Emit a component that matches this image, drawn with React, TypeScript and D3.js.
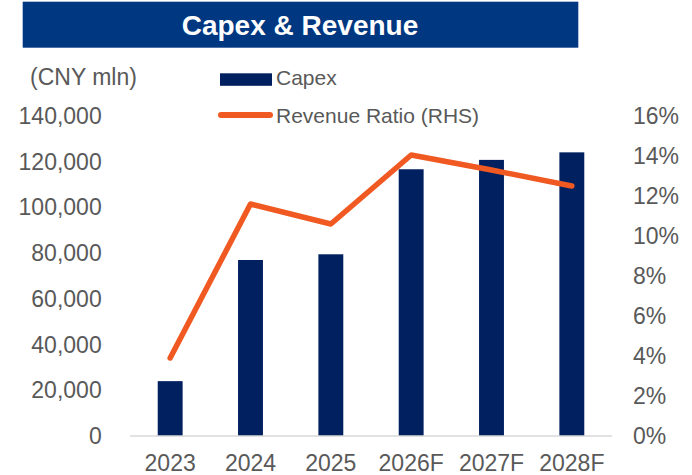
import React from "react";
import * as d3 from "d3";

const categories = ["2023", "2024", "2025", "2026F", "2027F", "2028F"];
const capex = [24000, 77000, 79500, 116700, 120800, 124100];
const revenueRatio = [3.9, 11.6, 10.6, 14.05, 13.3, 12.5];
const leftTicks = [0, 20000, 40000, 60000, 80000, 100000, 120000, 140000];
const rightTicks = [0, 2, 4, 6, 8, 10, 12, 14, 16];

const W = 692;
const H = 475;
const plot = { left: 130, right: 612, top: 116, bottom: 436 };
const FONT = "'Liberation Sans', Arial, sans-serif";
const GRAY = "#595959";
const NAVY = "#002060";
const ORANGE = "#F05A22";

export default function App() {
  const x = d3
    .scaleBand<string>()
    .domain(categories)
    .range([plot.left, plot.right])
    .paddingInner(0.69)
    .paddingOuter(0.345);
  const yL = d3.scaleLinear().domain([0, 140000]).range([plot.bottom, plot.top]);
  const yR = d3.scaleLinear().domain([0, 16]).range([plot.bottom, plot.top]);
  const fmt = d3.format(",");
  const cx = (c: string) => (x(c) as number) + x.bandwidth() / 2;
  const line = d3
    .line<number>()
    .x((_, i) => cx(categories[i]))
    .y((d) => yR(d));

  return (
    <svg
      width={W}
      height={H}
      style={{ position: "absolute", left: 0, top: 0, background: "#fff" }}
      fontFamily={FONT}
    >
      <rect x={22.7} y={1.7} width={555.6} height={46} fill="#003781" />
      <text x={300} y={34.5} textAnchor="middle" fill="#fff" fontWeight="bold" fontSize={28}>
        Capex &amp; Revenue
      </text>

      <text x={30} y={84.5} fill={GRAY} fontSize={23}>
        (CNY mln)
      </text>

      {/* legend */}
      <rect x={220} y={73.3} width={52} height={12.5} fill={NAVY} />
      <text x={276} y={85} fill={GRAY} fontSize={21}>
        Capex
      </text>
      <line x1={221} x2={270} y1={115} y2={115} stroke={ORANGE} strokeWidth={6} strokeLinecap="round" />
      <text x={276} y={122.5} fill={GRAY} fontSize={21}>
        Revenue Ratio (RHS)
      </text>

      {/* left axis labels */}
      {leftTicks.map((t) => (
        <text key={"l" + t} x={101.7} y={yL(t) + 8} textAnchor="end" fill={GRAY} fontSize={23}>
          {fmt(t)}
        </text>
      ))}
      {/* right axis labels */}
      {rightTicks.map((t) => (
        <text key={"r" + t} x={633} y={yR(t) + 8} fill={GRAY} fontSize={23}>
          {t + "%"}
        </text>
      ))}

      {/* bars */}
      {categories.map((c, i) => (
        <rect
          key={c}
          x={x(c)}
          y={yL(capex[i])}
          width={x.bandwidth()}
          height={plot.bottom - yL(capex[i])}
          fill={NAVY}
        />
      ))}

      {/* axis line */}
      <line x1={plot.left} x2={plot.right} y1={plot.bottom} y2={plot.bottom} stroke="#D9D9D9" strokeWidth={1.5} />

      {/* x labels */}
      {categories.map((c) => (
        <text key={"x" + c} x={cx(c)} y={471} textAnchor="middle" fill={GRAY} fontSize={23}>
          {c}
        </text>
      ))}

      {/* line */}
      <path
        d={line(revenueRatio) || ""}
        fill="none"
        stroke={ORANGE}
        strokeWidth={5.5}
        strokeLinecap="round"
        strokeLinejoin="round"
      />
    </svg>
  );
}
